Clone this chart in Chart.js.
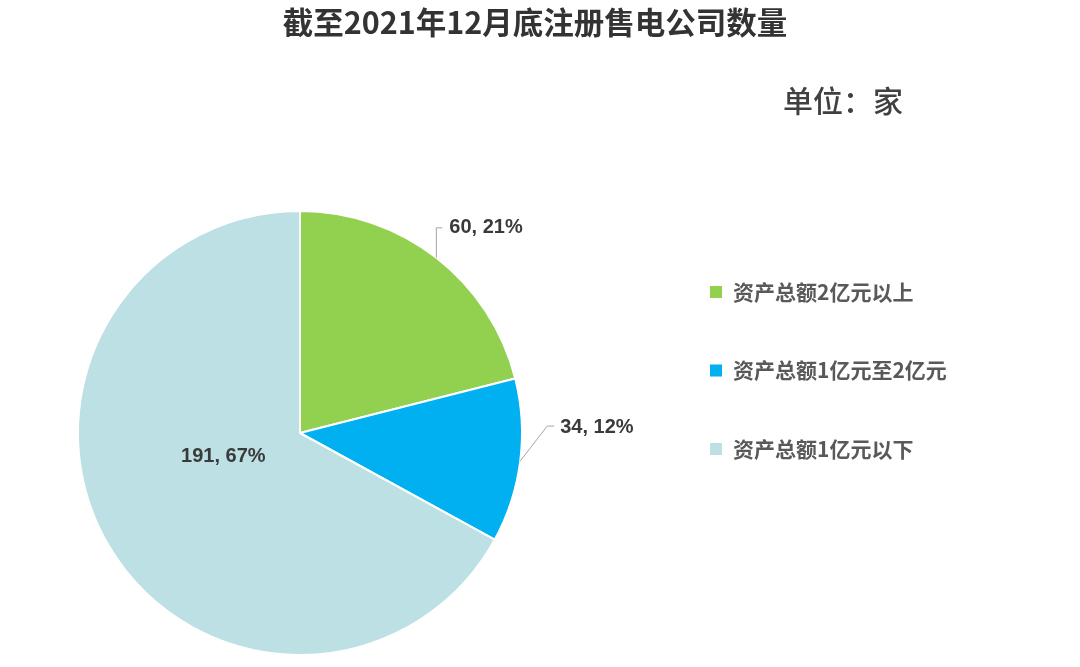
<!DOCTYPE html>
<html>
<head>
<meta charset="utf-8">
<script src="https://cdn.jsdelivr.net/npm/chart.js@4.4.1/dist/chart.umd.min.js"></script>
<style>
html,body{margin:0;padding:0;background:#fff;}
#wrap{width:1080px;height:667px;position:relative;}
</style>
</head>
<body>
<div id="wrap"><canvas id="c"></canvas></div>
<script>
const titleText = '截至2021年12月底注册售电公司数量';
const unitText = '单位：家';
const categories = ['资产总额2亿元以上', '资产总额1亿元至2亿元', '资产总额1亿元以下'];
const values = [60, 34, 191];
const percentLabels = ['21%', '12%', '67%'];
const colors = ['#92D050', '#00B0F0', '#BCE0E3'];

const labelFont = 'bold 20px "Liberation Sans", "DejaVu Sans", sans-serif';
const cjkBold = '"Noto Sans CJK SC", "Noto Sans", sans-serif';

// label layout styles per slice (relative to arc geometry)
const labelStyles = [
  {mode: 'up', rise: 30, run: 6, gap: 7},
  {mode: 'diag', dx: 27, dy: -35, run: 7, gap: 6},
  {mode: 'inside', frac: 0.37, dx: -6, dy: -18}
];

const overlay = {
  id: 'overlay',
  afterDraw(chart) {
    const ctx = chart.ctx;
    ctx.save();
    // title
    ctx.fillStyle = '#333333';
    ctx.font = 'bold 30.5px ' + cjkBold;
    ctx.textAlign = 'center';
    ctx.textBaseline = 'middle';
    ctx.fillText(titleText, 535, 22);
    // unit
    ctx.fillStyle = '#404040';
    ctx.font = '500 30px ' + cjkBold;
    ctx.textAlign = 'left';
    ctx.fillText(unitText, 783, 101);

    // data labels
    const meta = chart.getDatasetMeta(0);
    meta.data.forEach((arc, i) => {
      const p = arc.getProps(['x','y','startAngle','endAngle','outerRadius'], true);
      const a = (p.startAngle + p.endAngle) / 2;
      const ex = p.x + p.outerRadius * Math.cos(a);
      const ey = p.y + p.outerRadius * Math.sin(a);
      const st = labelStyles[i];
      const txt = values[i] + ', ' + percentLabels[i];
      ctx.font = labelFont;
      ctx.fillStyle = '#3a3a3a';
      ctx.textBaseline = 'middle';
      ctx.strokeStyle = '#A6A6A6';
      ctx.lineWidth = 1;
      if (st.mode === 'up') {
        ctx.beginPath();
        ctx.moveTo(ex, ey);
        ctx.lineTo(ex, ey - st.rise);
        ctx.lineTo(ex + st.run, ey - st.rise);
        ctx.stroke();
        ctx.textAlign = 'left';
        ctx.fillText(txt, ex + st.run + st.gap, ey - st.rise);
      } else if (st.mode === 'diag') {
        ctx.beginPath();
        ctx.moveTo(ex, ey);
        ctx.lineTo(ex + st.dx, ey + st.dy);
        ctx.lineTo(ex + st.dx + st.run, ey + st.dy);
        ctx.stroke();
        ctx.textAlign = 'left';
        ctx.fillText(txt, ex + st.dx + st.run + st.gap, ey + st.dy + 1);
      } else {
        const r = p.outerRadius * st.frac;
        ctx.textAlign = 'center';
        ctx.fillText(txt, p.x + r * Math.cos(a) + st.dx, p.y + r * Math.sin(a) + st.dy);
      }
    });

    // legend
    const lx = 710, ly0 = 292, lstep = 78.5;
    chart.data.labels.forEach((lab, i) => {
      const y = ly0 + i * lstep;
      ctx.fillStyle = colors[i];
      ctx.fillRect(lx, y - 6, 12, 12);
      ctx.fillStyle = '#595959';
      ctx.font = 'bold 21px ' + cjkBold;
      ctx.textAlign = 'left';
      ctx.textBaseline = 'middle';
      ctx.fillText(lab, lx + 23, y);
    });
    ctx.restore();
  }
};

new Chart(document.getElementById('c'), {
  type: 'pie',
  data: {
    labels: categories,
    datasets: [{
      data: values,
      backgroundColor: colors,
      borderColor: '#ffffff',
      borderWidth: 2,
      hoverOffset: 0
    }]
  },
  options: {
    responsive: true,
    maintainAspectRatio: false,
    animation: false,
    layout: {padding: {left: 77, right: 557, top: 210, bottom: 11}},
    plugins: {
      legend: {display: false},
      title: {display: false},
      tooltip: {enabled: false}
    }
  },
  plugins: [overlay]
});
</script>
</body>
</html>
